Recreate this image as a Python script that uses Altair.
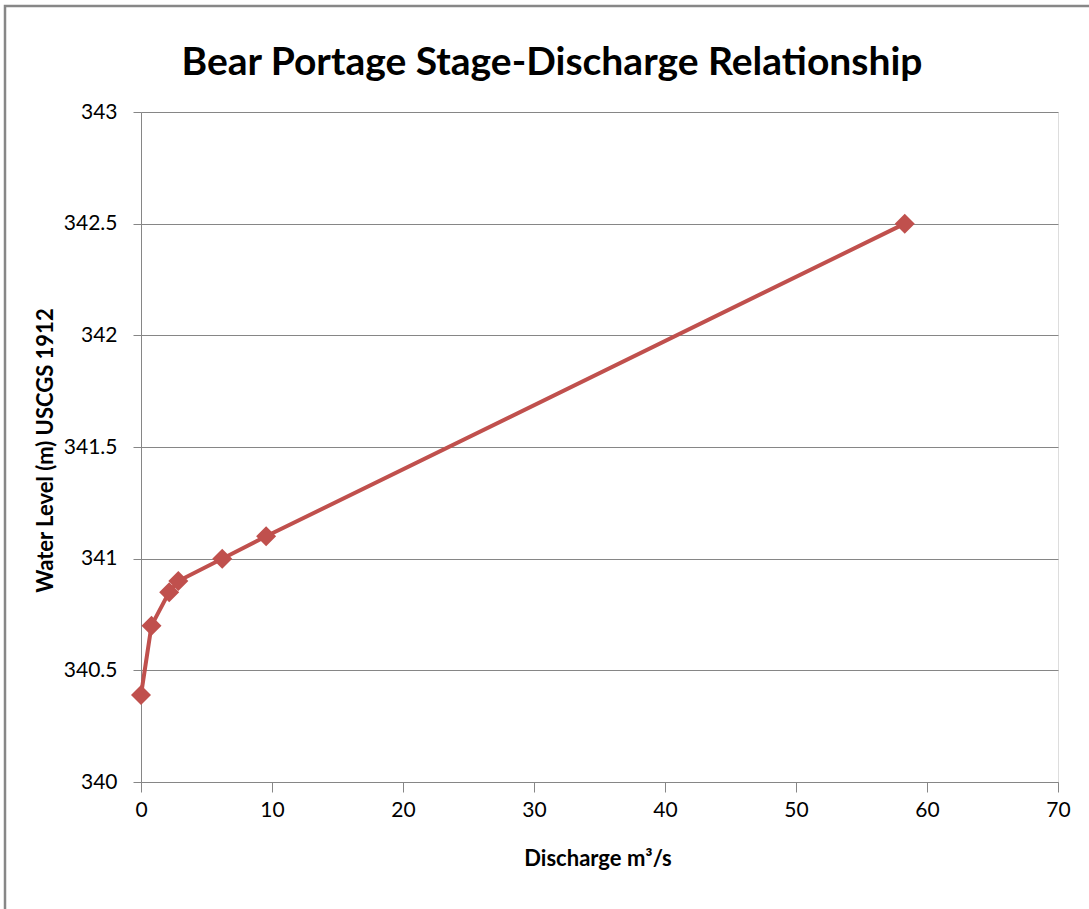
import altair as alt
import pandas as pd

# Stage-discharge observations at Bear Portage
discharge = [0.0, 0.8, 2.15, 2.85, 6.2, 9.55, 58.3]          # m3/s
water_level = [340.39, 340.70, 340.85, 340.90, 341.00, 341.10, 342.50]  # m, USCGS 1912

x_ticks = [0, 10, 20, 30, 40, 50, 60, 70]
y_ticks = [340, 340.5, 341, 341.5, 342, 342.5, 343]

title_text = "Bear Portage Stage-Discharge Relationship"

df = pd.DataFrame({"discharge": discharge, "level": water_level})

RED = "#C0504D"
GREY = "#868686"
FONT = "Lato"

W, H = 917, 670
PAD_L, PAD_T = 141, 112

x_enc = alt.X(
    "discharge:Q",
    scale=alt.Scale(domain=[0, 70], nice=False, zero=False),
    axis=alt.Axis(
        values=x_ticks,
        grid=False,
        title="Discharge m³/s",
        titleX=W / 2 - 2,
        titleY=76,
        titleBaseline="middle",
        titleFontSize=22,
        titleFontWeight="bold",
        titleFont=FONT,
        titleColor="#000000",
        labelFont=FONT,
        labelFontSize=21,
        labelColor="#000000",
        labelPadding=7,
        tickSize=10,
        tickColor=GREY,
        domainColor=GREY,
        labelFlush=False,
    ),
)

y_enc = alt.Y(
    "level:Q",
    scale=alt.Scale(domain=[340, 343], nice=False, zero=False),
    axis=alt.Axis(
        values=y_ticks,
        format=".1~f",
        grid=True,
        gridColor=GREY,
        title="Water Level (m) USCGS 1912",
        titleAngle=270,
        titleX=-96,
        titleY=H / 2 + 3,
        titleAlign="center",
        titleBaseline="middle",
        titleFontSize=22,
        titleFontWeight="bold",
        titleFont=FONT,
        titleColor="#000000",
        labelFont=FONT,
        labelFontSize=21,
        labelColor="#000000",
        labelPadding=16,
        tickSize=8,
        tickColor=GREY,
        domainColor=GREY,
        labelFlush=False,
    ),
)

line = alt.Chart(df).mark_line(color=RED, strokeWidth=4).encode(x=x_enc, y=y_enc)
points = alt.Chart(df).mark_point(
    shape="diamond", size=400, filled=True, color=RED, opacity=1
).encode(x="discharge:Q", y="level:Q")

one_row = pd.DataFrame({"a": [0]})

# outer chart border
frame = alt.Chart(one_row).mark_rect(
    fillOpacity=0, stroke="#878787", strokeWidth=2.5
).encode(
    x=alt.value(5 - PAD_L),
    x2=alt.value(1089 - PAD_L + 20),
    y=alt.value(6 - PAD_T),
    y2=alt.value(909 - PAD_T + 20),
)

# chart heading, centred on the whole figure
heading = alt.Chart(one_row).mark_text(
    font=FONT, fontSize=39, fontWeight="bold", color="#000000",
    align="center", baseline="alphabetic",
).encode(
    x=alt.value(552 - PAD_L),
    y=alt.value(75 - PAD_T),
    text=alt.value(title_text),
)

chart = (
    alt.layer(frame, heading, line, points)
    .properties(
        width=W,
        height=H,
        autosize=alt.AutoSizeParams(type="none"),
        padding={"left": PAD_L, "top": PAD_T, "right": 1089 - PAD_L - W, "bottom": 909 - PAD_T - H},
    )
    .configure_view(stroke=None)
    .configure(background="#ffffff")
)

chart.save("out.html", embed_options={"renderer": "svg", "actions": False})
